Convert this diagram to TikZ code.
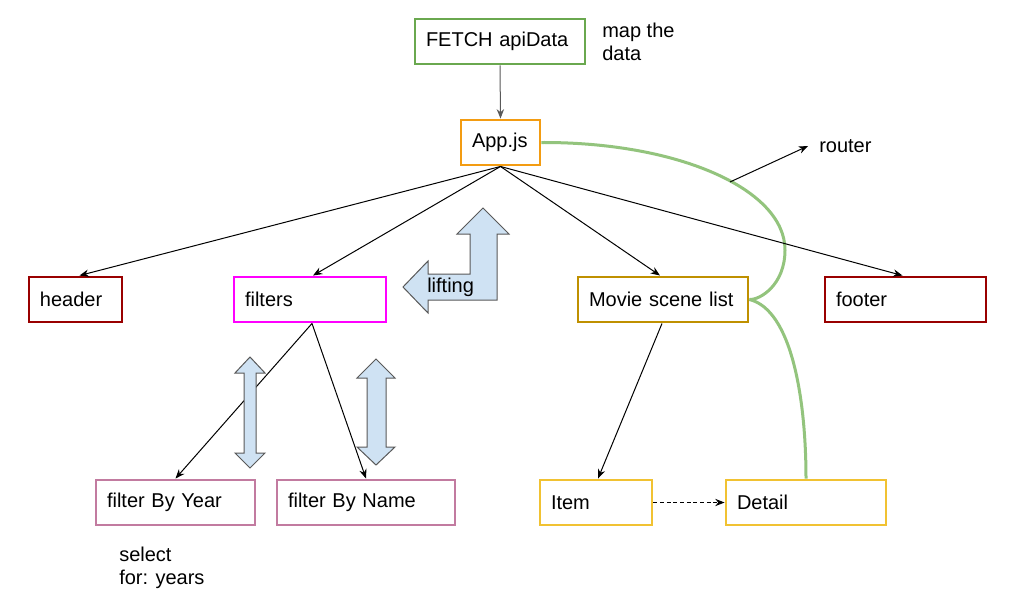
\documentclass[tikz,border=0pt]{standalone}
\usepackage{fontspec}
\setmainfont{Liberation Sans}
\usetikzlibrary{arrows.meta,calc}
\definecolor{cfetch}{HTML}{6AA84F}
\definecolor{capp}{HTML}{F39C12}
\definecolor{cred}{HTML}{990000}
\definecolor{cmag}{HTML}{FF00FF}
\definecolor{cmovie}{HTML}{BF9000}
\definecolor{cpink}{HTML}{C27BA0}
\definecolor{cyel}{HTML}{F1C232}
\definecolor{cgreen}{HTML}{93C47D}
\definecolor{cblue}{HTML}{CFE2F3}
\definecolor{cedge}{HTML}{595959}
\tikzset{
  bx/.style n args={2}{draw=#1, line width=2.2pt, fill=white, minimum height=33.75pt,
    text width=#2pt, align=left, inner xsep=8.25pt, inner ysep=0pt,
    font=\fontsize{15}{17.25}\selectfont},
  lbl/.style={font=\fontsize{15}{17.25}\selectfont, align=left, inner sep=0pt},
  conn/.style={line width=0.75pt, -{Stealth[length=7pt,width=5.5pt]}},
  fatarrow/.style={draw=cedge, fill=cblue, line width=0.75pt, line join=miter},
  curve/.style={draw=cgreen, line width=2.25pt}
}
\begin{document}
\begin{tikzpicture}[x=0.75pt,y=-0.75pt]
\fill[white] (0,0) rectangle (1011,607);
\useasboundingbox (0,0) rectangle (1011,607);

% nodes
\node[bx={cfetch}{111}] (fetch) at (500,41.5) {FETCH apiData};
\node[bx={capp}{42.75}] (app) at (500.5,142.5) {App.js};
\node[bx={cred}{53.25}] (header) at (75.5,299.5) {header};
\node[bx={cmag}{97.5}] (filters) at (310,299.5) {filters};
\node[bx={cmovie}{111}] (movie) at (663,299.5) {Movie scene list};
\node[bx={cred}{104.25}] (footer) at (905.5,299.5) {footer};
\node[bx={cpink}{102.75}] (fby) at (175.5,502.5) {filter By Year};
\node[bx={cpink}{117}] (fbn) at (366,502.5) {filter By Name};
\node[bx={cyel}{67.5}] (item) at (596,502.5) {Item};
\node[bx={cyel}{103.5}] (detail) at (806,502.5) {Detail};

\node[lbl, anchor=west] (maptxt) at (602,41.5) {map the\\data};
\node[lbl, anchor=west] (seltxt) at (119,568) {select\\for: years};
\node[lbl, anchor=west] (router) at (819,146) {router};

% green curve
\draw[curve] (app.east) .. controls (680,142) and (785,190) .. (785,250)
  .. controls (785,285) and (760,300) .. (movie.east);
\draw[curve] (movie.east) .. controls (792,310) and (806,400) .. (detail.north -| 806,480);
\coordinate (rstart) at (730,182);
\coordinate (rend) at (808,146);
\draw[conn] (rstart) -- (rend);

% connectors
\draw[conn, draw=cedge] (fetch.south) -- (app.north);
\draw[conn] (app.south) -- ($(header.north)+(4,0)$);
\draw[conn] (app.south) -- ($(filters.north)+(3,0)$);
\draw[conn] (app.south) -- ($(movie.north)+(-3,0)$);
\draw[conn] (app.south) -- ($(footer.north)+(-3,0)$);
\draw[conn] ($(filters.south)+(2,0)$) -- (fby.north);
\draw[conn] ($(filters.south)+(2,0)$) -- (fbn.north);
\draw[conn] ($(movie.south)+(-1,0)$) -- ($(item.north)+(2,0)$);
\draw[conn, dashed, dash pattern=on 3pt off 2pt] (item.east) -- (detail.west);

% lifting arrow
\draw[fatarrow] (483,208) -- (509,234) -- (497,234) -- (497,300) -- (428,300) -- (428,313)
  -- (403,287) -- (428,261) -- (428,274) -- (470,274) -- (470,234) -- (457,234) -- cycle;
\node[lbl, anchor=west] (lift) at (427,287) {lifting};

% double arrows
\draw[fatarrow] (250,357) -- (265,373) -- (256,373) -- (256,453) -- (265,453) -- (250,468)
  -- (235,453) -- (244,453) -- (244,373) -- (235,373) -- cycle;
\draw[fatarrow] (376,359) -- (395,378) -- (386,378) -- (386,447) -- (395,447) -- (376,465)
  -- (357,447) -- (367,447) -- (367,378) -- (357,378) -- cycle;
\end{tikzpicture}
\end{document}
